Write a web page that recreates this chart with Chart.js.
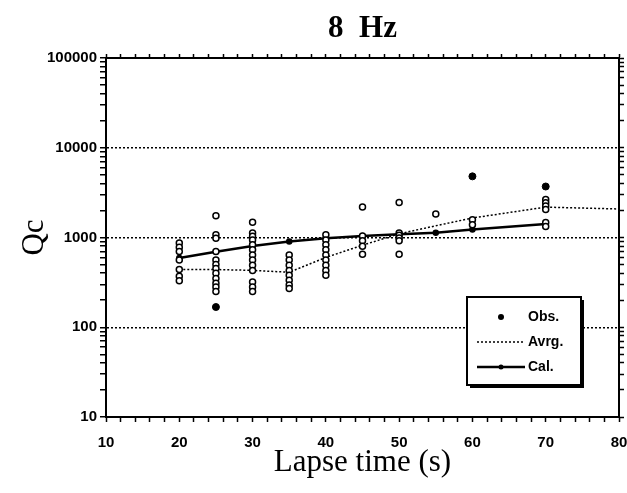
<!DOCTYPE html>
<html>
<head>
<meta charset="utf-8">
<script src="https://cdn.jsdelivr.net/npm/chart.js@4.4.1/dist/chart.umd.min.js"></script>
<style>
  html, body { margin: 0; padding: 0; background: #ffffff; }
  #chart { display: block; }
</style>
</head>
<body>
<canvas id="chart" width="627" height="493"></canvas>
<script>
// lapse times (s) where Qc was observed
const lapseTimes = [20, 25, 30, 35, 40, 45, 50, 55, 60, 70];

// observed Qc values at each lapse time (hollow circles)
const obsValues = [
  [870, 780, 700, 560, 440, 370, 330],
  [1750, 1070, 980, 700, 560, 500, 450, 400, 350, 310, 280, 250],
  [1480, 1120, 1030, 940, 830, 730, 640, 560, 490, 430, 320, 280, 250],
  [640, 560, 490, 430, 380, 335, 295, 270],
  [1070, 940, 830, 730, 640, 560, 490, 430, 380],
  [2180, 1040, 920, 800, 650],
  [2460, 1120, 1060, 990, 920, 650],
  [1830],
  [1580, 1390],
  [2650, 2440, 2240, 2050, 1470, 1330]
];

// a few observations printed as filled marks
const filledTimes = [25, 60, 70];
const filledValues = [168, 4800, 3700];

// averaged Qc (dotted line)
const avgTimes = [20, 25, 30, 35, 40, 45, 50, 55, 60, 70, 80];
const avgValues = [440, 440, 430, 410, 600, 820, 1100, 1350, 1650, 2180, 2080];

// calculated Qc (solid line)
const calTimes = [20, 25, 30, 35, 40, 45, 50, 55, 60, 70];
const calValues = [590, 695, 805, 900, 980, 1040, 1090, 1130, 1230, 1410];

// axis ticks
const xTickLabels = [10, 20, 30, 40, 50, 60, 70, 80];
const yTickLabels = [10, 100, 1000, 10000, 100000];
const yGridLines = [100, 1000, 10000];

const tickFont = { family: 'Liberation Sans, Arial, sans-serif', size: 15, weight: 'bold' };
const serif = 'Liberation Serif, Times New Roman, serif';

// minor ticks: every 2 s on x, 1..9 per decade on y
const xTicks = [];
for (let v = 10; v <= 80; v += 2) xTicks.push(v);
const yTicks = [];
for (let d = 10; d < 100000; d *= 10) {
  for (let m = 1; m < 10; m++) yTicks.push(m * d);
}
yTicks.push(100000);

const obsData = [];
lapseTimes.forEach((t, i) => {
  obsValues[i].forEach(v => obsData.push({ x: t, y: v }));
});
const filledData = filledTimes.map((t, i) => ({ x: t, y: filledValues[i] }));
const avgData = avgTimes.map((t, i) => ({ x: t, y: avgValues[i] }));
const calData = calTimes.map((t, i) => ({ x: t, y: calValues[i] }));

// title + legend box drawn by hand
const decorations = {
  id: 'decorations',
  afterDraw(chart) {
    const ctx = chart.ctx;
    const area = chart.chartArea;
    ctx.save();

    // title over the plot
    ctx.fillStyle = '#000';
    ctx.font = 'bold 31px ' + serif;
    ctx.textAlign = 'center';
    ctx.textBaseline = 'middle';
    ctx.fillText('8  Hz', (area.left + area.right) / 2, 29);

    // legend box
    const bx = area.right - 152, by = area.bottom - 120, bw = 114, bh = 88;
    ctx.fillStyle = '#000';
    ctx.fillRect(bx + 3, by + 3, bw, bh);
    ctx.fillStyle = '#fff';
    ctx.fillRect(bx, by, bw, bh);
    ctx.lineWidth = 2;
    ctx.strokeStyle = '#000';
    ctx.strokeRect(bx, by, bw, bh);

    const sx1 = bx + 10, sx2 = bx + 58, sc = bx + 34, tx = bx + 61;
    ctx.font = 'bold 14px Liberation Sans, Arial, sans-serif';
    ctx.textAlign = 'left';
    ctx.textBaseline = 'middle';

    // Obs.
    ctx.fillStyle = '#000';
    ctx.beginPath();
    ctx.arc(sc, by + 20, 3, 0, Math.PI * 2);
    ctx.fill();
    ctx.fillText('Obs.', tx, by + 20);

    // Avrg.
    ctx.setLineDash([2, 2]);
    ctx.lineWidth = 1.5;
    ctx.beginPath();
    ctx.moveTo(sx1, by + 45);
    ctx.lineTo(sx2, by + 45);
    ctx.stroke();
    ctx.setLineDash([]);
    ctx.fillText('Avrg.', tx, by + 45);

    // Cal.
    ctx.lineWidth = 2.5;
    ctx.beginPath();
    ctx.moveTo(sx1, by + 70);
    ctx.lineTo(sx2, by + 70);
    ctx.stroke();
    ctx.beginPath();
    ctx.arc(sc, by + 70, 2.5, 0, Math.PI * 2);
    ctx.fill();
    ctx.fillText('Cal.', tx, by + 70);

    ctx.restore();
  }
};

const setTicks = list => scale => { scale.ticks = list.map(v => ({ value: v })); };

new Chart(document.getElementById('chart').getContext('2d'), {
  type: 'scatter',
  data: {
    datasets: [
      {
        label: 'Obs.',
        data: obsData,
        showLine: false,
        pointRadius: 3,
        pointBorderWidth: 1.5,
        pointBorderColor: '#000',
        pointBackgroundColor: '#fff',
        order: 0
      },
      {
        label: 'Obs. filled',
        data: filledData,
        showLine: false,
        pointRadius: 3.5,
        pointBorderWidth: 1,
        pointBorderColor: '#000',
        pointBackgroundColor: '#000',
        order: 0
      },
      {
        label: 'Avrg.',
        data: avgData,
        showLine: true,
        borderColor: '#000',
        borderWidth: 1.5,
        borderDash: [2, 2],
        pointRadius: 0,
        order: 2
      },
      {
        label: 'Cal.',
        data: calData,
        showLine: true,
        borderColor: '#000',
        borderWidth: 2.5,
        pointRadius: 2,
        pointBackgroundColor: '#000',
        pointBorderColor: '#000',
        order: 1
      }
    ]
  },
  options: {
    responsive: false,
    animation: false,
    devicePixelRatio: 1,
    layout: { padding: 0 },
    plugins: {
      legend: { display: false },
      title: { display: false },
      tooltip: { enabled: false }
    },
    scales: {
      x: {
        type: 'linear',
        position: 'bottom',
        min: 10,
        max: 80,
        afterBuildTicks: setTicks(xTicks),
        afterFit: s => { s.height = 76; s.paddingLeft = 0; s.paddingRight = 0; },
        ticks: {
          autoSkip: false,
          maxRotation: 0,
          padding: 12,
          color: '#000',
          font: tickFont,
          callback: v => xTickLabels.includes(v) ? String(v) : ''
        },
        grid: { color: 'rgba(0,0,0,0)', tickColor: '#000', tickLength: 5, tickWidth: 1.5 },
        border: { color: '#000', width: 2 },
        title: {
          display: true,
          text: 'Lapse time (s)',
          color: '#000',
          font: { family: serif, size: 31 },
          padding: { top: 0, bottom: 12 }
        }
      },
      x2: {
        type: 'linear',
        position: 'top',
        min: 10,
        max: 80,
        afterBuildTicks: setTicks(xTicks),
        afterFit: s => { s.height = 58; s.paddingLeft = 0; s.paddingRight = 0; },
        ticks: { display: false },
        grid: { drawOnChartArea: false, color: '#000', tickColor: '#000', tickLength: 4, tickWidth: 1.5 },
        border: { color: '#000', width: 2 }
      },
      y: {
        type: 'logarithmic',
        position: 'left',
        min: 10,
        max: 100000,
        afterBuildTicks: setTicks(yTicks),
        afterFit: s => { s.width = 106; },
        ticks: {
          autoSkip: false,
          padding: 3,
          color: '#000',
          font: tickFont,
          callback: v => yTickLabels.includes(v) ? String(v) : ''
        },
        grid: {
          color: ctx => yGridLines.includes(ctx.tick && ctx.tick.value) ? '#000' : 'rgba(0,0,0,0)',
          lineWidth: 1.5,
          tickColor: '#000',
          tickLength: 6,
          tickWidth: 1.5
        },
        border: { color: '#000', width: 2, dash: [2, 2] },
        title: {
          display: true,
          text: 'Qc',
          color: '#000',
          font: { family: serif, size: 31 },
          padding: { top: 16, bottom: 0 }
        }
      },
      y2: {
        type: 'logarithmic',
        position: 'right',
        min: 10,
        max: 100000,
        afterBuildTicks: setTicks(yTicks),
        afterFit: s => { s.width = 8; },
        ticks: { display: false },
        grid: { drawOnChartArea: false, color: '#000', tickColor: '#000', tickLength: 5, tickWidth: 1.5 },
        border: { color: '#000', width: 2 }
      }
    }
  },
  plugins: [decorations]
});
</script>
</body>
</html>
